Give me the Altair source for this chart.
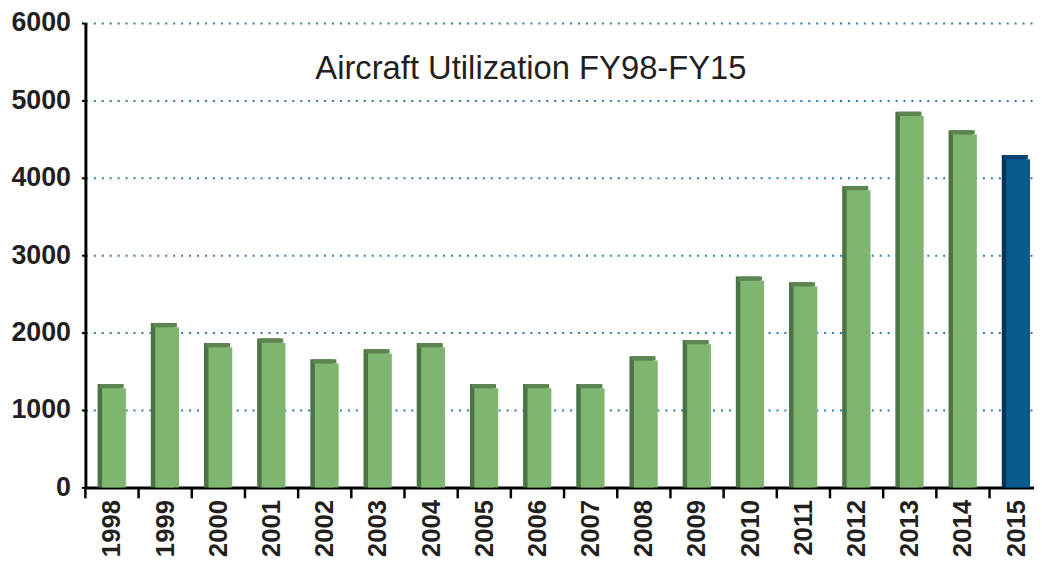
import json
import altair as alt
import pandas as pd

years = ["1998", "1999", "2000", "2001", "2002", "2003", "2004", "2005", "2006",
         "2007", "2008", "2009", "2010", "2011", "2012", "2013", "2014", "2015"]
hours = [1280, 2070, 1810, 1870, 1600, 1730, 1810, 1280, 1280,
         1280, 1640, 1850, 2670, 2595, 3840, 4800, 4560, 4240]
title_text = "Aircraft Utilization FY98-FY15"

n = len(years)
df = pd.DataFrame({"year": years, "hours": hours,
                   "pos": [i + 0.5 for i in range(n)]})
bounds = pd.DataFrame({"b": list(range(n))})

W, H = 956, 468
BAND_PX = 53.6            # width of one year's slot, the last one runs off the page
x_max = W / BAND_PX

GREEN_FRONT = "#7fb66f"
GREEN_SIDE = "#4d7245"
GREEN_TOP = "#5d8552"
BLUE_FRONT = "#0b5a8e"
BLUE_SIDE = "#05365a"
BLUE_TOP = "#0a4470"
GRID = "#2f7ca8"
INK = "#231f20"

is_current = alt.datum.year == "2015"
x_scale = alt.Scale(domain=[0, x_max], nice=False, zero=False, padding=0)

x_enc = alt.X(
    "pos:Q",
    scale=x_scale,
    axis=alt.Axis(
        title=None,
        values=[i + 0.5 for i in range(n)],
        labelExpr=f"{json.dumps(years)}[floor(datum.value)]",
        labelAngle=-90,
        labelFont="Liberation Sans",
        labelFontSize=26,
        labelFontWeight="bold",
        labelColor=INK,
        labelPadding=12,
        labelFlush=False,
        labelOverlap=False,
        ticks=False,
        domainColor="black",
        domainWidth=3,
        grid=False,
    ),
)

y_enc = alt.Y(
    "hours:Q",
    scale=alt.Scale(domain=[0, 6000], nice=False),
    axis=alt.Axis(
        title=None,
        values=[0, 1000, 2000, 3000, 4000, 5000, 6000],
        format="d",
        labelFont="Liberation Sans",
        labelFontSize=27,
        labelFontWeight="bold",
        labelColor=INK,
        labelPadding=11,
        tickSize=4,
        tickWidth=2,
        tickColor="black",
        domainColor="black",
        domainWidth=3,
        grid=True,
        gridColor=GRID,
        gridWidth=2,
        gridDash=[2, 6],
    ),
)

base = alt.Chart(df)

side = base.mark_bar(size=24, xOffset=-2.5, yOffset=-4.3, y2Offset=0).encode(
    x=x_enc,
    y=y_enc,
    y2=alt.Y2(datum=0),
    color=alt.condition(is_current, alt.value(BLUE_SIDE), alt.value(GREEN_SIDE)),
)

top = base.mark_bar(size=24, xOffset=-0.2, yOffset=-4.3, y2Offset=0).encode(
    x=x_enc,
    y=y_enc,
    y2=alt.Y2("hours:Q"),
    color=alt.condition(is_current, alt.value(BLUE_TOP), alt.value(GREEN_TOP)),
)

front = base.mark_bar(size=24, xOffset=2, yOffset=0, y2Offset=0).encode(
    x=x_enc,
    y=y_enc,
    y2=alt.Y2(datum=0),
    color=alt.condition(is_current, alt.value(BLUE_FRONT), alt.value(GREEN_FRONT)),
)

ticks = alt.Chart(bounds).mark_rule(color="black", strokeWidth=2.5).encode(
    x=alt.X("b:Q", scale=x_scale),
    y=alt.value(H + 1),
    y2=alt.value(H + 11),
)

title = alt.Chart(pd.DataFrame({"t": [title_text]})).mark_text(
    font="Liberation Sans",
    fontSize=33,
    fontWeight="normal",
    color=INK,
    align="center",
    baseline="alphabetic",
).encode(
    text="t:N",
    x=alt.value(449),
    y=alt.value(56),
)

chart = alt.layer(side, top, front, ticks, title).properties(
    width=W,
    height=H,
    autosize=alt.AutoSizeParams(type="none"),
    padding={"left": 78, "top": 13, "right": 0, "bottom": 69},
).configure_view(stroke=None)

chart.save("out.html", embed_options={"renderer": "svg", "actions": False})
